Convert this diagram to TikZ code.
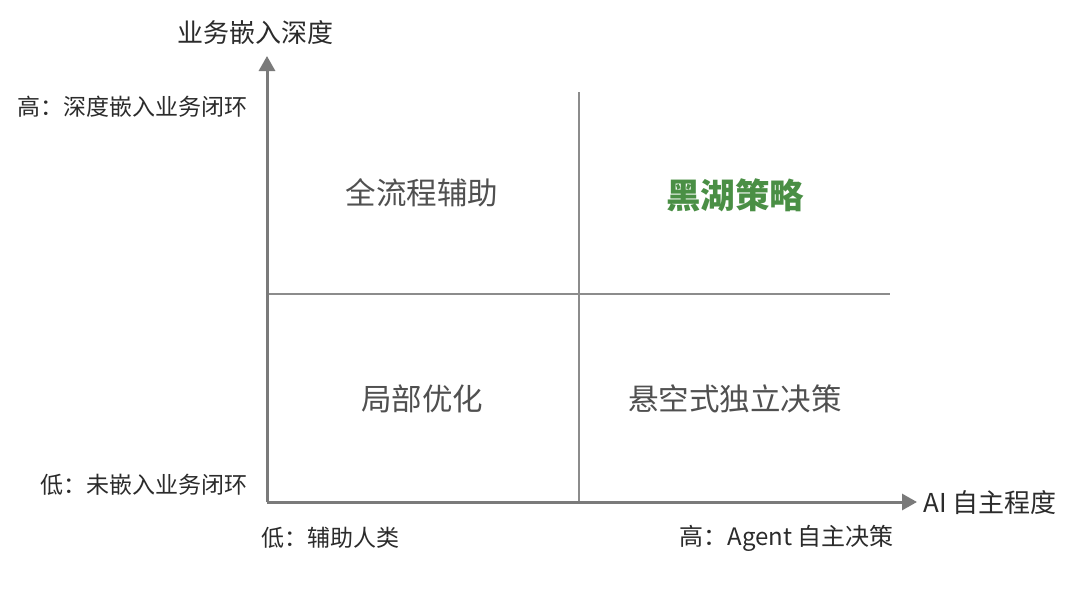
\documentclass[tikz,border=0pt]{standalone}
\usepackage{fontspec}
\setmainfont{Noto Sans CJK SC}
\usepackage{tikz}
\usetikzlibrary{arrows.meta, positioning}
\definecolor{axisgray}{HTML}{7A7A7A}
\definecolor{linegray}{HTML}{8C8C8C}
\definecolor{txtgray}{HTML}{2B2B2B}
\definecolor{quadgray}{HTML}{505050}
\definecolor{lakegreen}{HTML}{4A8F45}
\tikzset{
  axis/.style={draw=axisgray, line width=3pt, -{Triangle[length=15pt,width=16pt]}},
  split/.style={draw=linegray, line width=1.3pt},
  lbl/.style={text=txtgray, font=\fontsize{23}{25}\selectfont, inner sep=0pt},
  quad/.style={text=quadgray, font=\fontsize{30.5}{33}\selectfont, inner sep=0pt},
}
\begin{document}
\begin{tikzpicture}[x=1pt, y=-1pt]
  \useasboundingbox[fill=white] (0,0) rectangle (1080,589);
  \coordinate (O) at (267,502);
  \coordinate (ytop) at (267,56);
  \coordinate (xend) at (917,502);
  \coordinate (vtop) at (579,92);
  \coordinate (vbot) at (579,502);
  \coordinate (hl) at (267,294);
  \coordinate (hr) at (890,294);
  % quadrant split
  \draw[split] (vtop) -- (vbot);
  \draw[split] (hl) -- (hr);
  % axes
  \draw[axis] (O) -- (ytop);
  \draw[axis] (O) -- (xend);
  % axis labels
  \node[lbl, font=\fontsize{26}{28}\selectfont] (ytitle) at (255,33) {业务嵌入深度};
  \node[lbl, anchor=west, font=\fontsize{26}{28}\selectfont] (xtitle) at (923,503) {AI 自主程度};
  \node[lbl, anchor=east] (yhigh) at (248,107) {高：深度嵌入业务闭环};
  \node[lbl, anchor=east] (ylow) at (248,485) {低：未嵌入业务闭环};
  \node[lbl, anchor=west] (xlow) at (261,538) {低：辅助人类};
  \node[lbl, anchor=east, font=\fontsize{24}{26}\selectfont] (xhigh) at (894,538) {高：Agent 自主决策};
  % quadrants
  \node[quad] (q1) at (422,193) {全流程辅助};
  \node[quad, text=lakegreen, font=\fontsize{34.5}{37}\selectfont\bfseries] (q2) at (735,195) {黑湖策略};
  \node[quad] (q3) at (422,399) {局部优化};
  \node[quad] (q4) at (735,399) {悬空式独立决策};
\end{tikzpicture}
\end{document}
